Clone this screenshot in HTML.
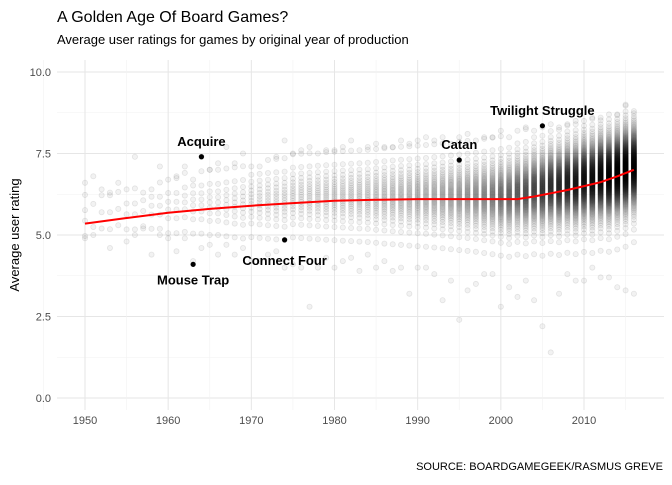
<!DOCTYPE html>
<html><head><meta charset="utf-8"><style>
body{margin:0;background:#fff;font-family:"Liberation Sans",sans-serif;}
svg text{font-family:"Liberation Sans",sans-serif;}
</style></head><body>
<svg id="chart" width="672" height="480" xmlns="http://www.w3.org/2000/svg">
<rect width="672" height="480" fill="#fff"/>
<text x="57" y="22" font-size="16" fill="#000">A Golden Age Of Board Games?</text>
<text x="57" y="44" font-size="13" fill="#000">Average user ratings for games by original year of production</text>
<g id="grid"></g>
<g id="ticks"></g>
<g id="points"></g>
<path id="trend" fill="none" stroke="#f00" stroke-width="2"/>
<g id="labels"></g>
<text transform="translate(19,235) rotate(-90)" text-anchor="middle" font-size="13" fill="#000">Average user rating</text>
<text x="663" y="470" text-anchor="end" font-size="11" fill="#000">SOURCE: BOARDGAMEGEEK/RASMUS GREVE</text>
</svg>
<script>
const years=[];for(let y=1950;y<=2016;y++)years.push(y);
const counts=[4,2,3,3,3,4,4,4,5,5, 6,6,7,8,8,9,9,10,11,12, 14,15,16,17,18,19,20,21,22,23, 24,25,26,27,28,30,32,34,36,38, 40,42,45,48,52,56,60,65,72,80, 90,100,110,125,140,160,180,200,220,245, 270,295,325,355,385,400,360];
const means=[5.6,5.6,5.7,5.7,5.8,5.8,5.8,5.9,5.9,5.9, 5.9,5.9,6.0,6.0,6.0,6.0,6.0,6.0,6.0,6.0, 6.1,6.1,6.1,6.1,6.1,6.2,6.2,6.2,6.2,6.2, 6.2,6.2,6.2,6.2,6.2,6.2,6.2,6.2,6.2,6.2, 6.2,6.2,6.2,6.2,6.2,6.2,6.2,6.2,6.2,6.2, 6.2,6.2,6.3,6.3,6.4,6.4,6.5,6.5,6.6,6.6, 6.7,6.7,6.8,6.8,6.9,7.0,7.1];
const sds=[0.55,0.55,0.55,0.55,0.55,0.55,0.55,0.55,0.55,0.55, 0.6,0.6,0.6,0.6,0.6,0.6,0.6,0.6,0.6,0.6, 0.6,0.6,0.6,0.6,0.6,0.6,0.6,0.6,0.6,0.6, 0.6,0.6,0.6,0.6,0.6,0.6,0.6,0.6,0.6,0.6, 0.6,0.6,0.6,0.6,0.6,0.6,0.6,0.6,0.6,0.6, 0.6,0.6,0.6,0.6,0.6,0.6,0.6,0.6,0.6,0.6, 0.6,0.6,0.6,0.6,0.6,0.6,0.6];
const lows=[4.9,5.0,5.2,4.6,5.3,4.8,5.0,5.2,4.4,5.0, 4.9,4.5,4.9,4.2,4.6,4.7,4.4,4.7,4.4,4.6, 4.2,4.2,4.4,4.5,4.0,4.1,4.0,2.8,4.0,4.3, 4.0,4.2,4.3,3.9,4.4,4.0,4.2,3.9,4.0,3.2, 4.0,4.0,3.8,3.0,3.6,2.4,3.3,3.5,3.8,3.8, 2.8,3.4,3.1,3.6,3.0,2.2,1.4,3.2,3.8,3.6, 3.6,4.0,3.7,3.7,3.4,3.3,3.2];
const highs=[6.6,6.8,6.4,6.3,6.6,6.4,7.4,6.3,6.4,7.1, 6.7,6.8,7.1,6.7,7.4,7.0,7.2,7.7,7.2,7.5, 7.1,7.1,7.3,7.4,7.9,7.5,7.6,7.7,7.5,7.6, 7.6,7.7,7.9,7.6,7.7,7.8,7.7,7.7,7.9,7.8, 7.9,8.0,7.9,8.0,7.8,8.0,8.1,7.9,8.0,8.0, 8.2,8.0,8.2,8.3,8.2,8.3,8.4,8.3,8.4,8.5, 8.5,8.6,8.6,8.7,8.7,9.0,8.8];
const trendYears=[1950,1955,1960,1965,1970,1975,1980,1985,1990,1995,2000,2002,2004,2006,2008,2010,2012,2014,2016];
const trendVals=[5.35,5.52,5.68,5.8,5.9,5.98,6.05,6.08,6.1,6.1,6.1,6.1,6.18,6.28,6.38,6.5,6.62,6.8,7.0];
const notable=[["Acquire",1964,7.4],["Mouse Trap",1963,4.1],["Connect Four",1974,4.85],["Catan",1995,7.3],["Twilight Struggle",2005,8.35]];
const labelOffsets={"Acquire":[0,-11],"Mouse Trap":[0,20],"Connect Four":[0,25],"Catan":[0,-11],"Twilight Struggle":[0,-11]};
const xTicks=[1950,1960,1970,1980,1990,2000,2010];
const yTicks=[0,2.5,5,7.5,10];
const yTickLabels=["0.0","2.5","5.0","7.5","10.0"];

const NS="http://www.w3.org/2000/svg";
const X=y=>85+(y-1950)*(584-85)/60;
const Y=v=>398-v*32.6;
function mk(t,a,p){const e=document.createElementNS(NS,t);for(const k in a)e.setAttribute(k,a[k]);p.appendChild(e);return e;}
const grid=document.getElementById('grid'),ticks=document.getElementById('ticks');
for(let v=-1.25;v<=10.7;v+=1.25){if(v<-0.5)continue;const major=Math.abs(v/2.5-Math.round(v/2.5))<1e-6;
 const l=mk('line',{x1:57,x2:664,y1:Y(v),y2:Y(v),stroke:major?'#e6e6e6':'#f2f2f2','stroke-width':major?1:0.6},grid);
 }
for(let yr=1945;yr<=2015;yr+=5){const major=yr%10===0;
 const l=mk('line',{x1:X(yr),x2:X(yr),y1:60,y2:410,stroke:major?'#e6e6e6':'#f2f2f2','stroke-width':major?1:0.6},grid);
 }
xTicks.forEach(t=>{const e=mk('text',{x:X(t),y:424,'text-anchor':'middle','font-size':11,fill:'#4d4d4d'},ticks);e.textContent=t;
 });
yTicks.forEach((t,i)=>{const e=mk('text',{x:51,y:Y(t)+4,'text-anchor':'end','font-size':11,fill:'#4d4d4d'},ticks);e.textContent=yTickLabels[i];
 });
const pts=document.getElementById('points');
function dot(x,v){const c=mk('circle',{cx:x,cy:Y(v).toFixed(1),r:2.6,fill:'rgba(0,0,0,0.05)',stroke:'rgba(0,0,0,0.09)','stroke-width':0.8},pts);
 }
years.forEach((yr,i)=>{const n=counts[i];const x=X(yr);
 for(let k=0;k<n;k++){const p=(k+0.5)/n;const z=Math.log(p/(1-p))/1.7;
  const v=means[i]+sds[i]*z;if(v<lows[i]||v>highs[i])continue;dot(x,v);}
 dot(x,lows[i]);dot(x,highs[i]);});
document.getElementById('trend').setAttribute('d',trendYears.map((t,i)=>(i?'L':'M')+X(t).toFixed(1)+','+Y(trendVals[i]).toFixed(1)).join(''));
const lab=document.getElementById('labels');
notable.forEach(([name,yr,v])=>{const c=mk('circle',{cx:X(yr),cy:Y(v),r:2.6,fill:'#000'},lab);
 
 const o=labelOffsets[name];const t=mk('text',{x:X(yr)+o[0],y:Y(v)+o[1],'text-anchor':'middle','font-size':13,'font-weight':'bold',fill:'#000','font-family':'DejaVu Sans, sans-serif'},lab);
 t.textContent=name;});
</script>
</body></html>
